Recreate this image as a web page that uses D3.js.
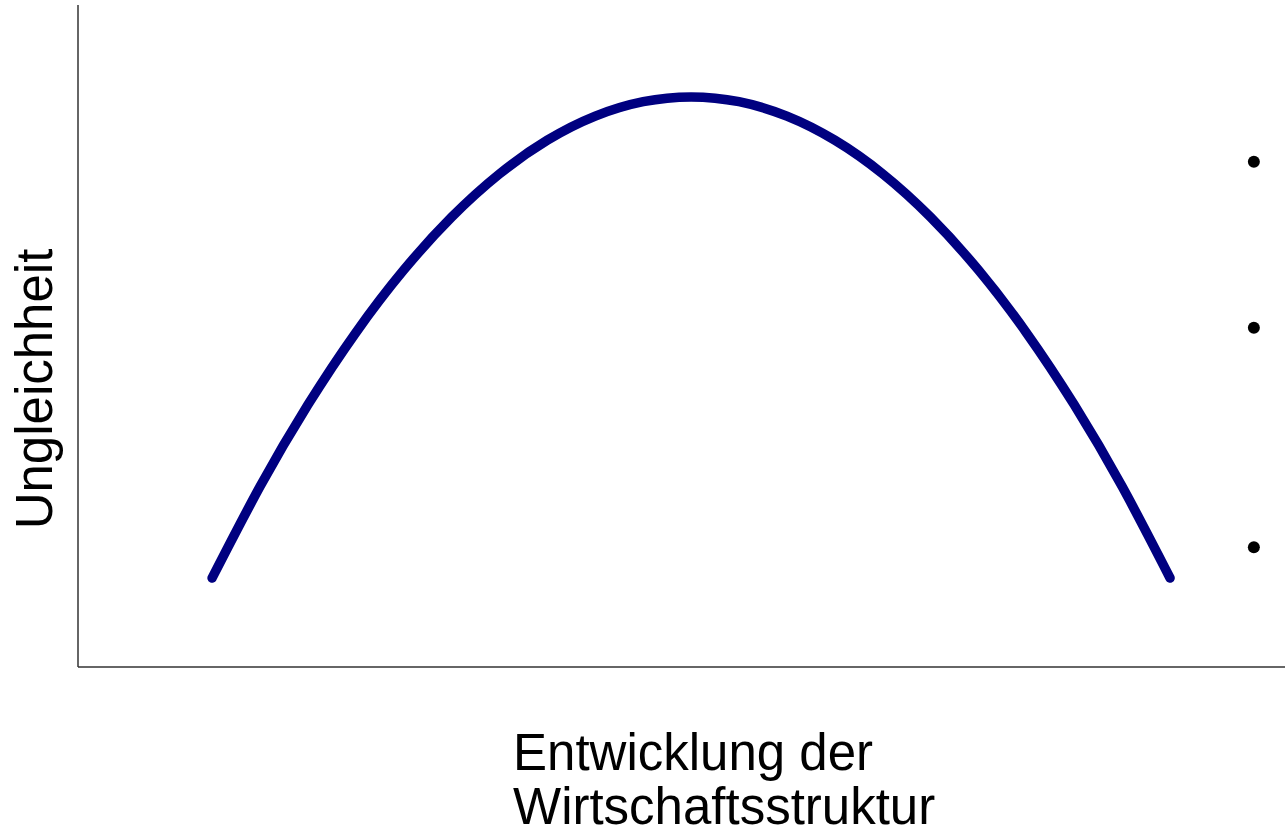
<!DOCTYPE html>
<html>
<head>
<meta charset="utf-8">
<script src="https://cdn.jsdelivr.net/npm/d3@7"></script>
<style>
  html, body { margin: 0; padding: 0; background: #fff; }
  text { font-family: "Liberation Sans", Arial, sans-serif; fill: #000; }
</style>
</head>
<body>
<svg id="chart" width="1285" height="834"></svg>
<script>
// curve values (arbitrary units)
var curveX = [-10, -9, -8, -7, -6, -5, -4, -3, -2, -1, 0, 1, 2, 3, 4, 5, 6, 7, 8, 9, 10];
var curveY = [0, 19, 36, 51, 64, 75, 84, 91, 96, 99, 100, 99, 96, 91, 84, 75, 64, 51, 36, 19, 0];

// the three dots on the right
var dotX = [11.75, 11.75, 11.75];
var dotY = [86.5, 52, 6.4];

var xLabel = ["Entwicklung der", "Wirtschaftsstruktur"];
var yLabel = "Ungleichheit";

var svg = d3.select("#chart");

// plot area in pixels
var plotLeft = 78, plotRight = 1285, plotTop = 5, plotBottom = 667;

var x = d3.scaleLinear().domain([-12.8, 12.4]).range([plotLeft, plotRight]);
var y = d3.scaleLinear().domain([-18.5, 119.1]).range([plotBottom, plotTop]);

// axis lines (no ticks)
svg.append("line")
    .attr("x1", plotLeft).attr("x2", plotLeft)
    .attr("y1", plotTop).attr("y2", plotBottom)
    .attr("stroke", "#333").attr("stroke-width", 1.5);
svg.append("line")
    .attr("x1", plotLeft).attr("x2", plotRight)
    .attr("y1", plotBottom).attr("y2", plotBottom)
    .attr("stroke", "#333").attr("stroke-width", 1.5);

var pts = curveX.map(function(d, i) { return [d, curveY[i]]; });

var line = d3.line()
    .x(function(d) { return x(d[0]); })
    .y(function(d) { return y(d[1]); })
    .curve(d3.curveNatural);

svg.append("path")
    .datum(pts)
    .attr("d", line)
    .attr("fill", "none")
    .attr("stroke", "#000080")
    .attr("stroke-width", 9.5)
    .attr("stroke-linecap", "round");

svg.selectAll("circle.dot")
    .data(dotX.map(function(d, i) { return [d, dotY[i]]; }))
    .enter()
    .append("circle")
    .attr("class", "dot")
    .attr("cx", function(d) { return x(d[0]); })
    .attr("cy", function(d) { return y(d[1]); })
    .attr("r", 6)
    .attr("fill", "#000");

// axis titles
svg.selectAll("text.xlab")
    .data(xLabel)
    .enter()
    .append("text")
    .attr("class", "xlab")
    .attr("x", 513)
    .attr("y", function(d, i) { return 770 + i * 54; })
    .style("font-size", "51px")
    .text(function(d) { return d; });

svg.append("text")
    .attr("transform", "translate(52,389) rotate(-90)")
    .attr("text-anchor", "middle")
    .style("font-size", "51px")
    .text(yLabel);
</script>
</body>
</html>
